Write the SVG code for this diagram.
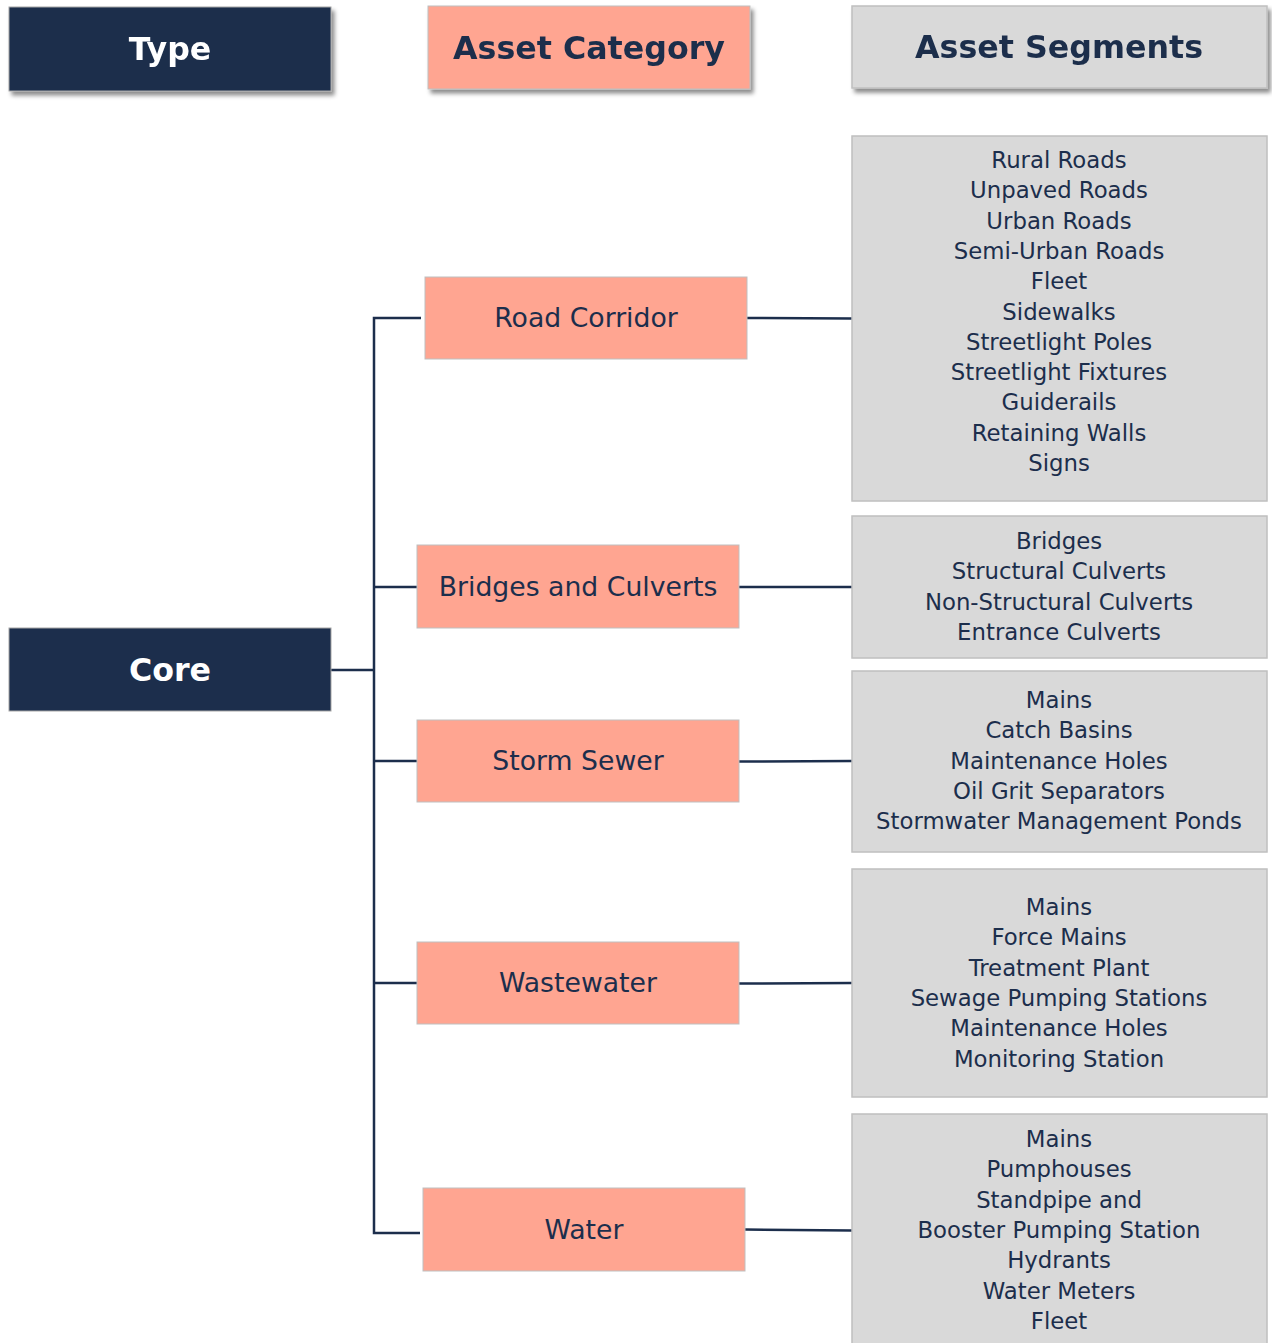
<svg xmlns="http://www.w3.org/2000/svg" width="1272" height="1343" viewBox="0 0 1272 1343">
  <defs>
    <filter id="shadow" x="-10%" y="-20%" width="125%" height="150%">
      <feDropShadow dx="3" dy="4" stdDeviation="2.2" flood-color="#000" flood-opacity="0.45"/>
    </filter>
  </defs>
  <style>
    .navy { fill: #1c2e4c; stroke: #a6a6a6; stroke-width: 1; }
    .salmon { fill: #ffa591; stroke: #bfbfbf; stroke-width: 1; }
    .grey { fill: #d9d9d9; stroke: #bfbfbf; stroke-width: 1.5; }
    .hdr { font-family: "DejaVu Sans", Verdana, sans-serif; font-weight: bold; font-size: 31.7px; text-anchor: middle; }
    .light { fill: #ffffff; }
    .dark { fill: #1c2e4c; }
    .cat { font-family: "DejaVu Sans", Verdana, sans-serif; font-size: 26.7px; fill: #1c2e4c; text-anchor: middle; }
    .seg { font-family: "DejaVu Sans", Verdana, sans-serif; font-size: 22.8px; fill: #1c2e4c; text-anchor: middle; }
    .wire { fill: none; stroke: #1c2e4c; stroke-width: 2.5; }
  </style>
  <rect width="1272" height="1343" fill="#ffffff"/>

  <!-- column headers -->
  <g id="header-type" filter="url(#shadow)">
    <rect class="navy" x="9" y="7" width="322" height="84"/>
    <text class="hdr light" x="170" y="60">Type</text>
  </g>
  <g id="header-category" filter="url(#shadow)">
    <rect class="salmon" x="428" y="6" width="322" height="83"/>
    <text class="hdr dark" x="589" y="59">Asset Category</text>
  </g>
  <g id="header-segments" filter="url(#shadow)">
    <rect class="grey" x="852" y="6" width="415" height="82"/>
    <text class="hdr dark" x="1059" y="58">Asset Segments</text>
  </g>

  <!-- connectors -->
  <g id="connectors">
    <path class="wire" d="M331 670 H374"/>
    <path class="wire" d="M421 318 H374 V1233 H420"/>
    <path class="wire" d="M374 587 H417"/>
    <path class="wire" d="M374 761 H417"/>
    <path class="wire" d="M374 983 H417"/>
    <path class="wire" d="M747 318 L852 318.5"/>
    <path class="wire" d="M739 587 H852"/>
    <path class="wire" d="M739 761.5 L852 761"/>
    <path class="wire" d="M739 983.5 L852 983"/>
    <path class="wire" d="M745 1229.5 L852 1230.5"/>
  </g>

  <!-- type -->
  <g id="core">
    <rect class="navy" x="9" y="628" width="322" height="83"/>
    <text class="hdr light" x="170" y="681">Core</text>
  </g>

  <!-- asset categories -->
  <g id="road-corridor">
    <rect class="salmon" x="425" y="277" width="322" height="82"/>
    <text class="cat" x="586" y="327">Road Corridor</text>
  </g>
  <g id="bridges-culverts">
    <rect class="salmon" x="417" y="545" width="322" height="83"/>
    <text class="cat" x="578" y="596">Bridges and Culverts</text>
  </g>
  <g id="storm-sewer">
    <rect class="salmon" x="417" y="720" width="322" height="82"/>
    <text class="cat" x="578" y="770">Storm Sewer</text>
  </g>
  <g id="wastewater">
    <rect class="salmon" x="417" y="942" width="322" height="82"/>
    <text class="cat" x="578" y="992">Wastewater</text>
  </g>
  <g id="water">
    <rect class="salmon" x="423" y="1188" width="322" height="83"/>
    <text class="cat" x="584" y="1239">Water</text>
  </g>

  <!-- asset segments (tspans kept on one line so no stray spaces shift the centring) -->
  <g id="road-segments">
    <rect class="grey" x="852" y="136" width="415" height="365"/>
    <text class="seg" x="1059" y="168"><tspan x="1059">Rural Roads</tspan><tspan x="1059" dy="30.3">Unpaved Roads</tspan><tspan x="1059" dy="30.3">Urban Roads</tspan><tspan x="1059" dy="30.3">Semi-Urban Roads</tspan><tspan x="1059" dy="30.3">Fleet</tspan><tspan x="1059" dy="30.3">Sidewalks</tspan><tspan x="1059" dy="30.3">Streetlight Poles</tspan><tspan x="1059" dy="30.3">Streetlight Fixtures</tspan><tspan x="1059" dy="30.3">Guiderails</tspan><tspan x="1059" dy="30.3">Retaining Walls</tspan><tspan x="1059" dy="30.3">Signs</tspan></text>
  </g>
  <g id="bridge-segments">
    <rect class="grey" x="852" y="516" width="415" height="142"/>
    <text class="seg" x="1059" y="549"><tspan x="1059">Bridges</tspan><tspan x="1059" dy="30.3">Structural Culverts</tspan><tspan x="1059" dy="30.3">Non-Structural Culverts</tspan><tspan x="1059" dy="30.3">Entrance Culverts</tspan></text>
  </g>
  <g id="storm-segments">
    <rect class="grey" x="852" y="671" width="415" height="181"/>
    <text class="seg" x="1059" y="708"><tspan x="1059">Mains</tspan><tspan x="1059" dy="30.3">Catch Basins</tspan><tspan x="1059" dy="30.3">Maintenance Holes</tspan><tspan x="1059" dy="30.3">Oil Grit Separators</tspan><tspan x="1059" dy="30.3">Stormwater Management Ponds</tspan></text>
  </g>
  <g id="wastewater-segments">
    <rect class="grey" x="852" y="869" width="415" height="228"/>
    <text class="seg" x="1059" y="915"><tspan x="1059">Mains</tspan><tspan x="1059" dy="30.3">Force Mains</tspan><tspan x="1059" dy="30.3">Treatment Plant</tspan><tspan x="1059" dy="30.3">Sewage Pumping Stations</tspan><tspan x="1059" dy="30.3">Maintenance Holes</tspan><tspan x="1059" dy="30.3">Monitoring Station</tspan></text>
  </g>
  <g id="water-segments">
    <rect class="grey" x="852" y="1114" width="415" height="240"/>
    <text class="seg" x="1059" y="1147"><tspan x="1059">Mains</tspan><tspan x="1059" dy="30.3">Pumphouses</tspan><tspan x="1059" dy="30.3">Standpipe and</tspan><tspan x="1059" dy="30.3">Booster Pumping Station</tspan><tspan x="1059" dy="30.3">Hydrants</tspan><tspan x="1059" dy="30.3">Water Meters</tspan><tspan x="1059" dy="30.3">Fleet</tspan></text>
  </g>
</svg>
